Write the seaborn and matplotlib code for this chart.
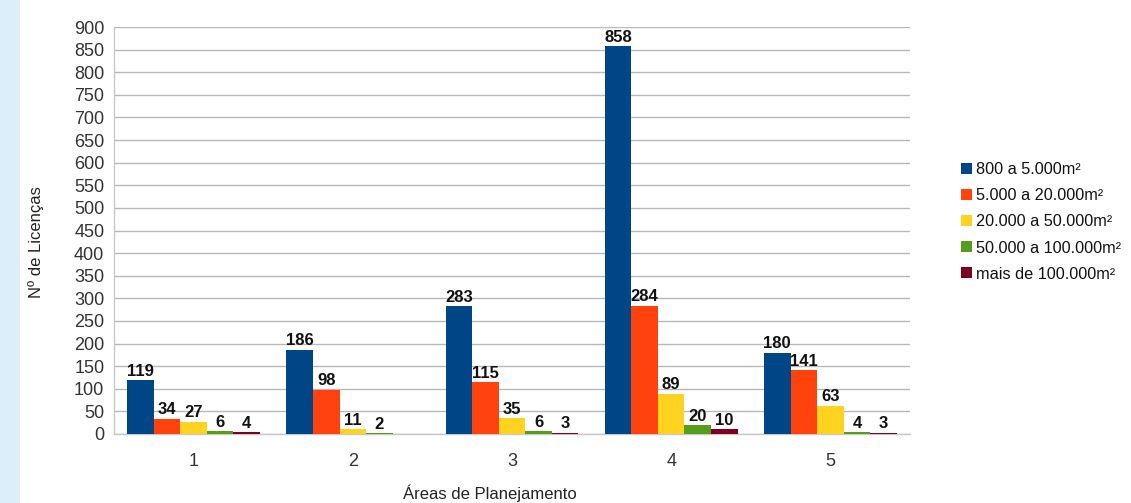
import matplotlib
matplotlib.use("Agg")
import matplotlib.pyplot as plt
import seaborn as sns
import pandas as pd
import numpy as np
from matplotlib.patches import Rectangle

areas = ["1", "2", "3", "4", "5"]
faixas = ["800 a 5.000m²", "5.000 a 20.000m²", "20.000 a 50.000m²",
          "50.000 a 100.000m²", "mais de 100.000m²"]
v_800_5000 = [119, 186, 283, 858, 180]
v_5000_20000 = [34, 98, 115, 284, 141]
v_20000_50000 = [27, 11, 35, 89, 63]
v_50000_100000 = [6, 2, 6, 20, 4]
v_mais_100000 = [4, 0, 3, 10, 3]
cores = ["#004586", "#ff420e", "#ffd320", "#579d1c", "#7e0021"]

series = [v_800_5000, v_5000_20000, v_20000_50000, v_50000_100000, v_mais_100000]
df = pd.DataFrame([
    {"area": a, "faixa": f, "licencas": v}
    for f, vals in zip(faixas, series)
    for a, v in zip(areas, vals)
])

sns.set_style("white")
plt.rcParams["font.family"] = ["Liberation Sans", "DejaVu Sans"]

fig = plt.figure(figsize=(11.31, 5.03), dpi=100)
fig.patch.set_facecolor("white")
fig.add_artist(Rectangle((0, 0), 20 / 1131, 1, transform=fig.transFigure,
                         facecolor="#ddeefb", edgecolor="none", zorder=0))

ax = fig.add_axes([114 / 1131, 1 - 434 / 503, (910 - 114) / 1131, (434 - 27) / 503])

sns.barplot(data=df, x="area", y="licencas", hue="faixa", hue_order=faixas,
            palette=cores, width=0.835, saturation=1, ax=ax, zorder=3,
            edgecolor="none", linewidth=0)

for cont in ax.containers:
    labels = [f"{int(b.get_height())}" if b.get_height() > 0 else "" for b in cont]
    ax.bar_label(cont, labels=labels, padding=1, fontsize=12, fontweight="bold",
                 color="#111111")

ax.set_ylim(0, 900)
ax.set_xlim(-0.5, 4.5)
ax.set_yticks(np.arange(0, 901, 50))
ax.yaxis.grid(True, color="#b8b8b8", linewidth=1, zorder=0)
ax.set_axisbelow(True)

ax.set_xticks(np.arange(-0.5, 5, 1), minor=True)
ax.tick_params(axis="x", which="major", length=0, pad=14, labelsize=13,
               labelcolor="#333333")
ax.tick_params(axis="x", which="minor", length=6, width=1, color="#c8c8c8")
ax.tick_params(axis="y", which="major", length=5, width=1, color="#c8c8c8",
               labelsize=13, labelcolor="#333333", pad=2)

for side in ["top", "right"]:
    ax.spines[side].set_visible(False)
for side in ["left", "bottom"]:
    ax.spines[side].set_color("#c8c8c8")
    ax.spines[side].set_linewidth(1)

ax.set_xlabel("Áreas de Planejamento", fontsize=12, color="#222222")
ax.xaxis.set_label_coords((490 - 114) / (910 - 114), -(493 - 434) / (434 - 27),
                          transform=ax.transAxes)
ax.xaxis.label.set_va("center")
ax.set_ylabel("Nº de Licenças", fontsize=12, color="#222222")
ax.yaxis.set_label_coords(-(114 - 36) / (910 - 114), (434 - 242) / (434 - 27),
                          transform=ax.transAxes)
ax.yaxis.label.set_va("center")

leg = ax.legend(loc="center left",
                bbox_to_anchor=((961 - 114) / (910 - 114), (434 - 222) / (434 - 27)),
                frameon=False, fontsize=11.7, handlelength=0.65, handleheight=0.65,
                handletextpad=0.25, labelspacing=0.68, borderaxespad=0, borderpad=0)
for t in leg.get_texts():
    t.set_color("#111111")

fig.savefig("out.png", dpi=100)
